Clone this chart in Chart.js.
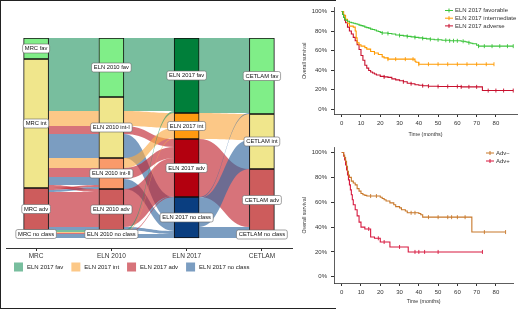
<!DOCTYPE html>
<html>
<head>
<meta charset="utf-8">
<script src="https://cdn.jsdelivr.net/npm/chart.js@4.4.1/dist/chart.umd.min.js"></script>
<style>
  html, body { margin: 0; padding: 0; background: #fff; }
  #page { position: relative; width: 520px; height: 309px; overflow: hidden; }
  .panel { position: absolute; }
  #frame { position: absolute; left: 0; top: 0; width: 335px; height: 307px; border: 1px solid #222; border-right: none; pointer-events: none; }
</style>
</head>
<body>
<div id="page">
  <div class="panel" style="left:0;top:0"><canvas id="alluvial" width="300" height="309"></canvas></div>
  <div class="panel" style="left:296px;top:0"><canvas id="kmTop" width="224" height="140"></canvas></div>
  <div class="panel" style="left:296px;top:140px"><canvas id="kmBottom" width="224" height="169"></canvas></div>
  <div id="frame"></div>
</div>
<script>
// ---- alluvial data ----
const axisNames = ["MRC", "ELN 2010", "ELN 2017", "CETLAM"];
const mrcStrata = ["MRC fav", "MRC int", "MRC adv", "MRC no class"];
const eln2010Strata = ["ELN 2010 fav", "ELN 2010 int-I", "ELN 2010 int-II", "ELN 2010 adv", "ELN 2010 no class"];
const eln2017Strata = ["ELN 2017 fav", "ELN 2017 int", "ELN 2017 adv", "ELN 2017 no class"];
const cetlamStrata = ["CETLAM fav", "CETLAM int", "CETLAM adv", "CETLAM no class"];

// one column per alluvium: stratum index on each axis + patient count
const pathMRC     = [0,1,1,1,1,1,1,1,1,1,1,1,1,2,2,2,1,2,2,2,3,3,3,3,3];
const pathELN2010 = [0,0,1,1,1,1,1,1,2,2,2,2,2,2,2,2,3,3,3,3,4,4,4,4,4];
const pathELN2017 = [0,0,0,1,2,3,3,3,1,2,3,3,3,2,3,3,2,2,3,3,0,1,2,3,3];
const pathCETLAM  = [0,0,0,1,2,1,2,3,1,2,1,3,0,2,1,3,2,2,2,3,0,1,2,1,3];
const alluviumN   = [21,38,14,15,8,20,2,2,10,9,6,1,1,2,1,1,3,35,2,1,2,1,1,2,2];

const flowLegend = ["ELN 2017 fav", "ELN 2017 int", "ELN 2017 adv", "ELN 2017 no class"];

// ---- survival data (top: ELN 2017 groups) ----
const favTime = [0,0.5,1,1.5,2, 3,4,5,6,7,8,9,10,11,12,13,14,15,16,17,18,19,20,21,22,
  24,26,28,30,32,34,36,38,40,42,44,46,48,50,52,54,56,58,60, 62,63,64,65,66,67,68, 70,71, 74,78,82,86,89];
const favSurv = [100,97,94,92,91, 90,89,88.5,88,87.5,87,86,85.5,85,84,83.5,83,82,81.5,81,80,79.5,78.5,78,78,
  77.5,77,76,75.5,75,74.5,74,73.5,73,72.5,72,71.5,71,71,70.5,70.5,70,70,70, 69.5,69.5,69,68.5,68,67.5,67, 65.5,64.5, 64.5,64.5,64.5,64.5,64.5];
const favCens = [0,0,0,0,0, 0,0,0,0,0,0,0,0,0,0,0,0,0,0,0,0,0,0,1,0,
  1,0,0,1,0,1,0,1,0,1,0,1,0,1,0,1,1,1,1, 0,1,0,0,1,0,0, 0,1, 1,1,1,1,1];

const intTime = [0,1,2,3,4, 6,7,7.5,8,9,10, 12,13,15,17,19,21,22,24, 28,33,37, 38,38.5,40, 45,50,55,60,65,70,75,79];
const intSurv = [100,96,92,88,85, 84,80,73,68,66,64.5, 63,61.5,59,57.5,56,53.5,52.5,51.2, 51.2,51.2,51.2, 49,48,46, 46,46,46,46,46,46,46,46];
const intCens = [0,0,0,0,0, 0,0,0,0,0,0, 0,0,0,1,0,0,0,1, 1,1,1, 0,0,1, 1,1,1,1,1,1,1,1];

const advTime = [0,0.5,1,1.5,2, 3,4,5,6,7,8,9,10,11,12,13,14,15,16,17,18,
  20,22,24,26,28,30,32,34,36,38,40,42, 45,50,55,60,62,66,70, 72.5,73,76,80,84,89];
const advSurv = [100,97,94,91,88.5, 84,80,77,73.5,70,66,61,55,50,45,42,39.5,38,37,36,35,
  33.5,33,32.5,31,30,29,28,26.5,26,25,24.5,24, 23.5,23.2,23.2,23.2,22.8,22.8,22.8, 22.8,19,19,19,19,19];
const advCens = [0,0,0,0,0, 0,0,0,0,0,0,0,0,0,0,0,0,0,0,0,0,
  0,1,0,0,0,0,1,0,1,0,0,1, 1,1,1,1,1,1,1, 0,0,1,1,1,1];

// ---- survival data (bottom: Adv- / Adv+) ----
const negTime = [0,1,1.5,2,2.5,3,3.5,4, 5,6,7,8,9,10,11,12,13,
  15,18,20,21,22,23,25,27,28,30,31,33,34,36,38,40, 41,42,45,50,55,57,60,64,67, 67.5,74,85];
const negSurv = [100,98,96,93,89,85,82,80, 77,75.5,74,71,69,67,66,65.5,65,
  65,65,64,63,62,61,59.5,58,56.5,55.5,54,53,51.5,51.5,51.5,51, 50,48,48,48,48,48,48,48,48, 36,36,36];
const negCens = [0,0,0,0,0,0,0,0, 0,0,0,0,0,0,0,0,0,
  1,1,0,0,0,0,0,0,0,0,0,0,0,1,1,0, 0,0,1,1,1,1,1,1,0, 0,1,1];

const posTime = [0,1,1.5,2,2.5,3,3.5,4,4.5,5,5.5,6, 7,8,9,10,12,14,15,17,19,20, 22,24,25,30,34, 34.5,38,40,43,50,73];
const posSurv = [100,97,94,90,86,82,78,74,70,66,62,58, 54,49,44,40,38.5,38.5,32,31,31,28, 28,28,24,24,24, 20,20,20,20,20,20];
const posCens = [0,0,0,0,0,0,0,0,0,0,0,0, 0,0,0,0,0,1,0,0,1,0, 1,0,0,1,0, 0,1,1,1,1,1];

const survTicks = [0, 20, 40, 60, 80, 100];
const timeTicks = [0, 10, 20, 30, 40, 50, 60, 70, 80];

// ---- styling ----
Chart.defaults.font.family = "'Liberation Sans', Arial, sans-serif";
Chart.defaults.color = "#333";
Chart.defaults.animation = false;

const nodeColors = [
  ["#80ee88", "#f0e68c", "#cd5c5c", "#dcdcdc"],
  ["#80ee88", "#f0e68c", "#fa9a6a", "#cd5c5c", "#dcdcdc"],
  ["#007f3a", "#ff9a10", "#b3000f", "#0a3e80"],
  ["#80ee88", "#f0e68c", "#cd5c5c", "#dcdcdc"],
];
const flowColors = ["rgba(47,155,106,0.65)", "rgba(250,170,70,0.65)", "rgba(193,40,50,0.65)", "rgba(52,104,160,0.65)"];
const nodeHalf = 12.5;

const paths = [pathMRC, pathELN2010, pathELN2017, pathCETLAM];
const strataNames = [mrcStrata, eln2010Strata, eln2017Strata, cetlamStrata];
const nodeCounts = paths.map((p, a) => {
  const out = new Array(strataNames[a].length).fill(0);
  p.forEach((s, i) => { out[s] += alluviumN[i]; });
  return out;
});
const nodeTops = nodeCounts.map(c => { let acc = 0; return c.map(v => { const t = acc; acc += v; return t; }); });

function drawGap(ctx, xs, ys, a) {
  const b = a + 1;
  const groups = [];
  alluviumN.forEach((n, i) => {
    const sa = paths[a][i], sb = paths[b][i], col = pathELN2017[i];
    let g = groups.find(q => q.sa === sa && q.sb === sb && q.col === col);
    if (!g) { g = { sa, sb, col, n: 0 }; groups.push(g); }
    g.n += n;
  });
  const curL = nodeTops[a].slice(), curR = nodeTops[b].slice();
  [...groups].sort((p, q) => p.sa - q.sa || p.sb - q.sb || p.col - q.col)
    .forEach(g => { g.yl = curL[g.sa]; curL[g.sa] += g.n; });
  [...groups].sort((p, q) => p.sb - q.sb || p.sa - q.sa || p.col - q.col)
    .forEach(g => { g.yr = curR[g.sb]; curR[g.sb] += g.n; });
  const x0 = xs.getPixelForValue(a) + nodeHalf, x1 = xs.getPixelForValue(b) - nodeHalf, xm = (x0 + x1) / 2;
  groups.forEach(g => {
    const l0 = ys.getPixelForValue(g.yl), l1 = ys.getPixelForValue(g.yl + g.n);
    const r0 = ys.getPixelForValue(g.yr), r1 = ys.getPixelForValue(g.yr + g.n);
    ctx.beginPath();
    ctx.moveTo(x0, l0);
    ctx.bezierCurveTo(xm, l0, xm, r0, x1, r0);
    ctx.lineTo(x1, r1);
    ctx.bezierCurveTo(xm, r1, xm, l1, x0, l1);
    ctx.closePath();
    ctx.fillStyle = flowColors[g.col];
    ctx.fill();
  });
}

function roundRect(ctx, x, y, w, h, r) {
  ctx.beginPath();
  ctx.moveTo(x + r, y);
  ctx.arcTo(x + w, y, x + w, y + h, r);
  ctx.arcTo(x + w, y + h, x, y + h, r);
  ctx.arcTo(x, y + h, x, y, r);
  ctx.arcTo(x, y, x + w, y, r);
  ctx.closePath();
}

const alluvialPlugin = {
  id: "alluvialPlugin",
  beforeDatasetsDraw(chart) {
    const { ctx } = chart;
    ctx.save();
    for (let a = 0; a < paths.length - 1; a++) drawGap(ctx, chart.scales.x, chart.scales.y, a);
    ctx.restore();
  },
  afterDatasetsDraw(chart) {
    const { ctx } = chart;
    const xs = chart.scales.x, ys = chart.scales.y;
    ctx.save();
    ctx.font = "5.8px 'Liberation Sans', Arial";
    ctx.textAlign = "center";
    ctx.textBaseline = "middle";
    strataNames.forEach((names, a) => {
      names.forEach((name, s) => {
        const cx = xs.getPixelForValue(a);
        const cy = ys.getPixelForValue(nodeTops[a][s] + nodeCounts[a][s] / 2);
        const w = ctx.measureText(name).width + 4.5, h = 9;
        roundRect(ctx, cx - w / 2, cy - h / 2, w, h, 2);
        ctx.fillStyle = "#fff";
        ctx.fill();
        ctx.lineWidth = 0.6;
        ctx.strokeStyle = "#666";
        ctx.stroke();
        ctx.fillStyle = "#111";
        ctx.fillText(name, cx, cy + 0.3);
      });
    });
    ctx.restore();
  },
  afterDraw(chart) {
    const { ctx } = chart;
    ctx.save();
    ctx.font = "6px 'Liberation Sans', Arial";
    ctx.textBaseline = "middle";
    let x = 14;
    const y = 267;
    flowLegend.forEach((label, i) => {
      ctx.fillStyle = flowColors[i];
      ctx.fillRect(x, y - 4.5, 9, 9);
      ctx.fillStyle = "#222";
      ctx.fillText(label, x + 13, y);
      x += 13 + ctx.measureText(label).width + 8;
    });
    ctx.restore();
  },
};

new Chart(document.getElementById("alluvial"), {
  type: "bar",
  data: {
    datasets: [0, 1, 2, 3, 4].map(k => ({
      data: axisNames.map((_, a) => ({ x: a, y: k < nodeCounts[a].length ? nodeCounts[a][k] : null })),
      backgroundColor: axisNames.map((_, a) => nodeColors[a][k] || "transparent"),
      borderColor: "#111",
      borderWidth: 1,
      borderSkipped: false,
      barThickness: 25,
    })),
  },
  options: {
    responsive: false,
    events: [],
    layout: { padding: { left: 6, right: 8, top: 38, bottom: 0 } },
    plugins: { legend: { display: false }, tooltip: { enabled: false } },
    scales: {
      x: {
        type: "linear", min: -0.4, max: 3.4, stacked: true, offset: false,
        afterBuildTicks: s => { s.ticks = axisNames.map((_, i) => ({ value: i })); },
        afterFit: s => { s.height = 61; },
        ticks: { callback: v => axisNames[v], font: { size: 6.5 }, color: "#333", padding: 1.5 },
        grid: { offset: false, drawOnChartArea: false, tickLength: 3, color: "#333" },
        border: { color: "#333", width: 1 },
      },
      y: { display: false, reverse: true, min: 0, max: 210, stacked: true },
    },
  },
  plugins: [alluvialPlugin],
});

// ---- Kaplan-Meier panels ----
function kmDataset(label, color, time, surv, cens) {
  return {
    label,
    data: time.map((t, i) => ({ x: t, y: surv[i] })),
    borderColor: color,
    borderWidth: 1.1,
    stepped: true,
    fill: false,
    pointStyle: "line",
    pointRotation: 90,
    pointRadius: c => (cens[c.dataIndex] ? 2 : 0),
    pointBorderColor: color,
    pointBorderWidth: 0.9,
    pointHoverRadius: 0,
  };
}

function kmLegend(x, y0, step) {
  return {
    id: "kmLegend",
    afterDraw(chart) {
      const { ctx } = chart;
      ctx.save();
      ctx.font = "6px 'Liberation Sans', Arial";
      ctx.textBaseline = "middle";
      chart.data.datasets.forEach((ds, i) => {
        const y = y0 + i * step;
        ctx.strokeStyle = ds.borderColor;
        ctx.lineWidth = 1;
        ctx.beginPath();
        ctx.moveTo(x, y); ctx.lineTo(x + 8, y);
        ctx.moveTo(x + 4, y - 2); ctx.lineTo(x + 4, y + 2);
        ctx.stroke();
        ctx.fillStyle = "#333";
        ctx.fillText(ds.label, x + 10, y);
      });
      ctx.restore();
    },
  };
}

function kmOptions(xMax, rightPad, xHeight, titleBottom) {
  return {
    responsive: false,
    events: [],
    layout: { padding: { left: 0, right: rightPad, top: 6, bottom: 0 } },
    plugins: { legend: { display: false }, tooltip: { enabled: false } },
    scales: {
      x: {
        type: "linear", min: -4, max: xMax,
        afterBuildTicks: s => { s.ticks = timeTicks.map(v => ({ value: v })); },
        afterFit: s => { s.height = xHeight; },
        ticks: { font: { size: 6 }, color: "#333", padding: 2.5 },
        grid: { drawOnChartArea: false, tickLength: 3, color: "#333" },
        border: { color: "#333", width: 0.8 },
        title: { display: true, text: "Time (months)", font: { size: 5.3 }, color: "#333", padding: { top: 0, bottom: titleBottom } },
      },
      y: {
        type: "linear", min: -5, max: 104,
        afterBuildTicks: s => { s.ticks = survTicks.map(v => ({ value: v })); },
        afterFit: s => { s.width = 38; },
        ticks: { callback: v => v + "%", font: { size: 6 }, color: "#333", padding: 4 },
        grid: { drawOnChartArea: false, tickLength: 3, color: "#333" },
        border: { color: "#333", width: 0.8 },
        title: { display: true, text: "Overall survival", font: { size: 5.3 }, color: "#333", padding: { top: 5.5, bottom: 0 } },
      },
    },
  };
}

new Chart(document.getElementById("kmTop"), {
  type: "line",
  data: {
    datasets: [
      kmDataset("ELN 2017 favorable", "#3cc43c", favTime, favSurv, favCens),
      kmDataset("ELN 2017 intermediate", "#ff9a00", intTime, intSurv, intCens),
      kmDataset("ELN 2017 adverse", "#c8102e", advTime, advSurv, advCens),
    ],
  },
  options: kmOptions(91, 0.5, 26, 2.4),
  plugins: [kmLegend(149, 10.5, 7.7)],
});

new Chart(document.getElementById("kmBottom"), {
  type: "line",
  data: {
    datasets: [
      kmDataset("Adv\u2212", "#c8782a", negTime, negSurv, negCens),
      kmDataset("Adv+", "#d7193f", posTime, posSurv, posCens),
    ],
  },
  options: kmOptions(89, 6.7, 26, 4.4),
  plugins: [kmLegend(190, 13, 8)],
});
</script>
</body>
</html>
